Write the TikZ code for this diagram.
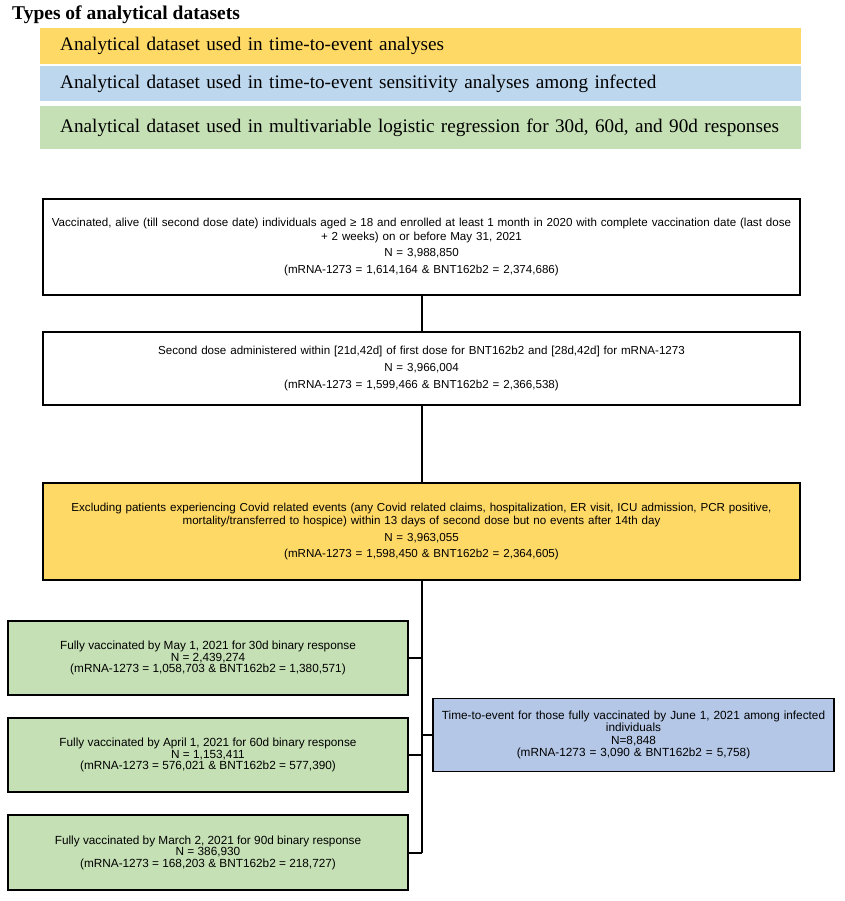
\documentclass[tikz,border=0pt]{standalone}
\usepackage{fontspec}
\setmainfont{Liberation Serif}
\setsansfont{Liberation Sans}
\definecolor{legyellow}{HTML}{FFD966}
\definecolor{legblue}{HTML}{BDD7EE}
\definecolor{leggreen}{HTML}{C5E0B4}
\definecolor{boxblue}{HTML}{B4C7E7}

\begin{document}
\begin{tikzpicture}[x=1pt,y=-1pt]
\useasboundingbox (0,0) rectangle (844,901);

\node [anchor=base west, inner sep=0pt, font=\bfseries\fontsize{19.5}{21}\selectfont] (title) at (12,20) {Types of analytical datasets};

\begin{scope}[every node/.style={anchor=west, inner xsep=20pt, inner ysep=0pt, text width=721pt, align=left, font=\fontsize{19.2}{21}\selectfont}]
    \node [fill=legyellow, minimum height=36pt] (legtte) at (40,46) {Analytical dataset used in time-to-event analyses};
    \node [fill=legblue, minimum height=35pt] (legsens) at (40,83.5) {Analytical dataset used in time-to-event sensitivity analyses among infected};
    \node [fill=leggreen, minimum height=43pt] (leglogit) at (40,127.5) {Analytical dataset used in multivariable logistic regression for 30d, 60d, and 90d responses};
\end{scope}

\begin{scope}[every node/.style={draw, line width=1.6pt, align=center, inner sep=2pt, font=\sffamily\fontsize{11.6}{13.5}\selectfont}]
    \node [minimum width=757pt, minimum height=96pt, text width=750pt] (alive) at (421.5,247) {Vaccinated, alive (till second dose date) individuals aged ≥ 18 and enrolled at least 1 month in 2020 with complete vaccination date (last dose\\+ 2 weeks) on or before May 31, 2021\\[3pt]N = 3,988,850\\[3pt](mRNA-1273 = 1,614,164 \& BNT162b2 = 2,374,686)};
    \node [minimum width=757pt, minimum height=73pt, text width=750pt] (second) at (421.5,368.5) {Second dose administered within [21d,42d] of first dose for BNT162b2 and [28d,42d] for mRNA-1273\\[3.5pt]N = 3,966,004\\[3.5pt](mRNA-1273 = 1,599,466 \& BNT162b2 = 2,366,538)};
    \node [fill=legyellow, minimum width=757pt, minimum height=97pt, text width=750pt] (excl) at (421.5,531.5) {Excluding patients experiencing Covid related events (any Covid related claims, hospitalization, ER visit, ICU admission, PCR positive,\\mortality/transferred to hospice) within 13 days of second dose but no events after 14th day\\[3pt]N = 3,963,055\\[3pt](mRNA-1273 = 1,598,450 \& BNT162b2 = 2,364,605)};

    \node [fill=leggreen, minimum width=400pt, minimum height=74pt, font=\sffamily\fontsize{11.8}{11.5}\selectfont] (may) at (208,658) {Fully vaccinated by May 1, 2021 for 30d binary response\\N = 2,439,274\\(mRNA-1273 = 1,058,703 \& BNT162b2 = 1,380,571)};
    \node [fill=leggreen, minimum width=400pt, minimum height=74pt, font=\sffamily\fontsize{11.8}{11.5}\selectfont] (april) at (208,755) {Fully vaccinated by April 1, 2021 for 60d binary response\\N = 1,153,411\\(mRNA-1273 = 576,021 \& BNT162b2 = 577,390)};
    \node [fill=leggreen, minimum width=400pt, minimum height=75pt, font=\sffamily\fontsize{11.8}{11.5}\selectfont] (march) at (208,852.5) {Fully vaccinated by March 2, 2021 for 90d binary response\\N = 386,930\\(mRNA-1273 = 168,203 \& BNT162b2 = 218,727)};

    \node [fill=boxblue, minimum width=401pt, minimum height=73pt, text width=395pt, font=\sffamily\fontsize{11.8}{12.2}\selectfont] (infected) at (633.5,735) {Time-to-event for those fully vaccinated by June 1, 2021 among infected\\individuals\\N=8,848\\(mRNA-1273 = 3,090 \& BNT162b2 = 5,758)};

    \path [line width=2pt] (alive) edge (second);
    \path [line width=2pt] (second) edge (excl);
    \draw [line width=2pt] (excl.south) -- (excl.south |- march.east);
    \draw [line width=2pt] (may.east) -- (may.east -| excl.south);
    \draw [line width=2pt] (april.east) -- (april.east -| excl.south);
    \draw [line width=2pt] (march.east) -- (march.east -| excl.south);
    \draw [line width=2pt] (infected.west) -- (infected.west -| excl.south);
\end{scope}

\end{tikzpicture}
\end{document}
